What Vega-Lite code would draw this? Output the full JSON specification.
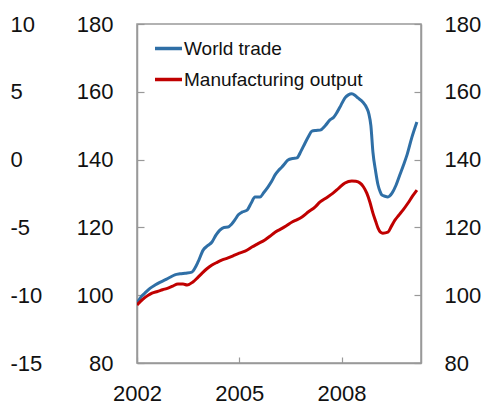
{
  "$schema": "https://vega.github.io/schema/vega-lite/v6.json",
  "width": 284,
  "height": 339,
  "autosize": "none",
  "padding": {"left": 137, "top": 24, "right": 64, "bottom": 45},
  "config": {
    "font": "Liberation Sans",
    "view": {"stroke": "#999999", "strokeWidth": 1.5},
    "axis": {"labelFont": "Liberation Sans", "labelFontSize": 22, "labelColor": "#111111", "domainColor": "#999999", "domainWidth": 1.5, "tickColor": "#999999", "tickWidth": 1.2, "grid": false, "title": null, "labelOverlap": false}
  },
  "data": {"values": [
    {"s": "World trade", "t": 2002.00, "v": 97.7},
    {"s": "World trade", "t": 2002.12, "v": 99.5},
    {"s": "World trade", "t": 2002.23, "v": 100.6},
    {"s": "World trade", "t": 2002.38, "v": 102.0},
    {"s": "World trade", "t": 2002.53, "v": 103.0},
    {"s": "World trade", "t": 2002.67, "v": 103.8},
    {"s": "World trade", "t": 2002.82, "v": 104.5},
    {"s": "World trade", "t": 2002.97, "v": 105.3},
    {"s": "World trade", "t": 2003.11, "v": 106.0},
    {"s": "World trade", "t": 2003.26, "v": 106.3},
    {"s": "World trade", "t": 2003.41, "v": 106.5},
    {"s": "World trade", "t": 2003.61, "v": 106.8},
    {"s": "World trade", "t": 2003.70, "v": 108.0},
    {"s": "World trade", "t": 2003.79, "v": 109.8},
    {"s": "World trade", "t": 2003.94, "v": 113.3},
    {"s": "World trade", "t": 2004.07, "v": 114.6},
    {"s": "World trade", "t": 2004.20, "v": 115.7},
    {"s": "World trade", "t": 2004.32, "v": 117.8},
    {"s": "World trade", "t": 2004.43, "v": 119.2},
    {"s": "World trade", "t": 2004.55, "v": 120.0},
    {"s": "World trade", "t": 2004.67, "v": 120.1},
    {"s": "World trade", "t": 2004.78, "v": 121.0},
    {"s": "World trade", "t": 2004.87, "v": 122.2},
    {"s": "World trade", "t": 2004.98, "v": 123.8},
    {"s": "World trade", "t": 2005.08, "v": 124.5},
    {"s": "World trade", "t": 2005.23, "v": 125.1},
    {"s": "World trade", "t": 2005.35, "v": 127.2},
    {"s": "World trade", "t": 2005.46, "v": 129.0},
    {"s": "World trade", "t": 2005.61, "v": 129.0},
    {"s": "World trade", "t": 2005.72, "v": 130.3},
    {"s": "World trade", "t": 2005.84, "v": 131.9},
    {"s": "World trade", "t": 2005.95, "v": 133.6},
    {"s": "World trade", "t": 2006.05, "v": 135.5},
    {"s": "World trade", "t": 2006.15, "v": 136.8},
    {"s": "World trade", "t": 2006.25, "v": 137.8},
    {"s": "World trade", "t": 2006.35, "v": 139.0},
    {"s": "World trade", "t": 2006.43, "v": 139.9},
    {"s": "World trade", "t": 2006.56, "v": 140.3},
    {"s": "World trade", "t": 2006.69, "v": 140.5},
    {"s": "World trade", "t": 2006.81, "v": 142.5},
    {"s": "World trade", "t": 2006.93, "v": 144.9},
    {"s": "World trade", "t": 2007.03, "v": 146.8},
    {"s": "World trade", "t": 2007.13, "v": 148.4},
    {"s": "World trade", "t": 2007.25, "v": 148.6},
    {"s": "World trade", "t": 2007.37, "v": 148.7},
    {"s": "World trade", "t": 2007.52, "v": 150.0},
    {"s": "World trade", "t": 2007.66, "v": 151.7},
    {"s": "World trade", "t": 2007.77, "v": 152.5},
    {"s": "World trade", "t": 2007.87, "v": 154.0},
    {"s": "World trade", "t": 2007.98, "v": 156.0},
    {"s": "World trade", "t": 2008.10, "v": 158.2},
    {"s": "World trade", "t": 2008.20, "v": 159.1},
    {"s": "World trade", "t": 2008.30, "v": 159.4},
    {"s": "World trade", "t": 2008.40, "v": 158.9},
    {"s": "World trade", "t": 2008.48, "v": 158.2},
    {"s": "World trade", "t": 2008.62, "v": 157.0},
    {"s": "World trade", "t": 2008.74, "v": 155.2},
    {"s": "World trade", "t": 2008.80, "v": 153.5},
    {"s": "World trade", "t": 2008.86, "v": 150.0},
    {"s": "World trade", "t": 2008.92, "v": 142.2},
    {"s": "World trade", "t": 2009.00, "v": 136.5},
    {"s": "World trade", "t": 2009.07, "v": 132.5},
    {"s": "World trade", "t": 2009.13, "v": 130.6},
    {"s": "World trade", "t": 2009.18, "v": 129.6},
    {"s": "World trade", "t": 2009.27, "v": 129.2},
    {"s": "World trade", "t": 2009.36, "v": 129.0},
    {"s": "World trade", "t": 2009.48, "v": 130.1},
    {"s": "World trade", "t": 2009.60, "v": 132.5},
    {"s": "World trade", "t": 2009.71, "v": 135.5},
    {"s": "World trade", "t": 2009.82, "v": 138.5},
    {"s": "World trade", "t": 2009.92, "v": 141.4},
    {"s": "World trade", "t": 2010.06, "v": 146.5},
    {"s": "World trade", "t": 2010.21, "v": 151.1},
    {"s": "Manufacturing output", "t": 2002.00, "v": 97.1},
    {"s": "Manufacturing output", "t": 2002.15, "v": 98.6},
    {"s": "Manufacturing output", "t": 2002.30, "v": 99.8},
    {"s": "Manufacturing output", "t": 2002.44, "v": 100.6},
    {"s": "Manufacturing output", "t": 2002.60, "v": 101.1},
    {"s": "Manufacturing output", "t": 2002.75, "v": 101.6},
    {"s": "Manufacturing output", "t": 2002.91, "v": 102.1},
    {"s": "Manufacturing output", "t": 2003.05, "v": 102.7},
    {"s": "Manufacturing output", "t": 2003.20, "v": 103.3},
    {"s": "Manufacturing output", "t": 2003.35, "v": 103.3},
    {"s": "Manufacturing output", "t": 2003.47, "v": 103.0},
    {"s": "Manufacturing output", "t": 2003.64, "v": 103.9},
    {"s": "Manufacturing output", "t": 2003.78, "v": 105.2},
    {"s": "Manufacturing output", "t": 2003.91, "v": 106.5},
    {"s": "Manufacturing output", "t": 2004.05, "v": 107.8},
    {"s": "Manufacturing output", "t": 2004.20, "v": 108.9},
    {"s": "Manufacturing output", "t": 2004.35, "v": 109.7},
    {"s": "Manufacturing output", "t": 2004.50, "v": 110.4},
    {"s": "Manufacturing output", "t": 2004.67, "v": 111.0},
    {"s": "Manufacturing output", "t": 2004.83, "v": 111.7},
    {"s": "Manufacturing output", "t": 2005.00, "v": 112.4},
    {"s": "Manufacturing output", "t": 2005.17, "v": 113.0},
    {"s": "Manufacturing output", "t": 2005.37, "v": 114.2},
    {"s": "Manufacturing output", "t": 2005.55, "v": 115.2},
    {"s": "Manufacturing output", "t": 2005.75, "v": 116.3},
    {"s": "Manufacturing output", "t": 2005.90, "v": 117.4},
    {"s": "Manufacturing output", "t": 2006.05, "v": 118.6},
    {"s": "Manufacturing output", "t": 2006.20, "v": 119.4},
    {"s": "Manufacturing output", "t": 2006.37, "v": 120.4},
    {"s": "Manufacturing output", "t": 2006.55, "v": 121.6},
    {"s": "Manufacturing output", "t": 2006.70, "v": 122.3},
    {"s": "Manufacturing output", "t": 2006.84, "v": 123.1},
    {"s": "Manufacturing output", "t": 2007.03, "v": 124.6},
    {"s": "Manufacturing output", "t": 2007.22, "v": 126.0},
    {"s": "Manufacturing output", "t": 2007.37, "v": 127.5},
    {"s": "Manufacturing output", "t": 2007.55, "v": 128.7},
    {"s": "Manufacturing output", "t": 2007.75, "v": 130.1},
    {"s": "Manufacturing output", "t": 2007.92, "v": 131.6},
    {"s": "Manufacturing output", "t": 2008.10, "v": 133.1},
    {"s": "Manufacturing output", "t": 2008.30, "v": 133.7},
    {"s": "Manufacturing output", "t": 2008.42, "v": 133.6},
    {"s": "Manufacturing output", "t": 2008.54, "v": 133.1},
    {"s": "Manufacturing output", "t": 2008.64, "v": 132.0},
    {"s": "Manufacturing output", "t": 2008.74, "v": 130.1},
    {"s": "Manufacturing output", "t": 2008.83, "v": 127.5},
    {"s": "Manufacturing output", "t": 2008.92, "v": 124.2},
    {"s": "Manufacturing output", "t": 2009.00, "v": 121.8},
    {"s": "Manufacturing output", "t": 2009.07, "v": 119.8},
    {"s": "Manufacturing output", "t": 2009.14, "v": 118.6},
    {"s": "Manufacturing output", "t": 2009.21, "v": 118.3},
    {"s": "Manufacturing output", "t": 2009.36, "v": 118.6},
    {"s": "Manufacturing output", "t": 2009.46, "v": 120.3},
    {"s": "Manufacturing output", "t": 2009.57, "v": 122.2},
    {"s": "Manufacturing output", "t": 2009.68, "v": 123.6},
    {"s": "Manufacturing output", "t": 2009.80, "v": 125.1},
    {"s": "Manufacturing output", "t": 2009.95, "v": 127.2},
    {"s": "Manufacturing output", "t": 2010.08, "v": 129.2},
    {"s": "Manufacturing output", "t": 2010.21, "v": 131.0}
  ]},
  "encoding": {
    "x": {
      "field": "t", "type": "quantitative",
      "scale": {"domain": [2002, 2010.33], "nice": false, "zero": false},
      "axis": {"values": [2002, 2005, 2008], "format": "d", "tickSize": -6, "labelPadding": 26, "labelFlush": false}
    }
  },
  "layer": [
    {
      "mark": {"type": "line", "strokeWidth": 3, "interpolate": "monotone", "clip": true},
      "encoding": {
        "y": {
          "field": "v", "type": "quantitative",
          "scale": {"domain": [80, 180], "nice": false, "zero": false},
          "axis": {"orient": "left", "values": [80, 100, 120, 140, 160, 180], "tickSize": -7, "labelPadding": 31, "labelAlign": "right", "labelBaseline": "middle"}
        },
        "color": {
          "field": "s", "type": "nominal",
          "scale": {"domain": ["World trade", "Manufacturing output"], "range": ["#2f6fa6", "#c00000"]},
          "legend": {
            "title": null, "orient": "none", "legendX": 16, "legendY": 9,
            "symbolType": "stroke", "symbolSize": 729, "symbolStrokeWidth": 3.5,
            "labelFontSize": 19, "labelFont": "Liberation Sans", "labelColor": "#111111",
            "labelOffset": 0, "rowPadding": 5, "padding": 0, "labelLimit": 300
          }
        }
      }
    },
    {
      "mark": {"type": "line", "opacity": 0, "clip": true},
      "encoding": {
        "y": {
          "field": "v", "type": "quantitative",
          "scale": {"domain": [80, 180], "nice": false, "zero": false},
          "axis": {"orient": "right", "values": [80, 100, 120, 140, 160, 180], "tickSize": -7, "labelPadding": 30, "labelAlign": "left", "labelBaseline": "middle"}
        },
        "detail": {"field": "s"}
      }
    },
    {
      "mark": {"type": "line", "opacity": 0, "clip": true},
      "encoding": {
        "y": {
          "field": "v", "type": "quantitative",
          "scale": {"domain": [-15, 10], "nice": false, "zero": false},
          "axis": {"orient": "left", "values": [-15, -10, -5, 0, 5, 10], "labelExpr": "'' + datum.value", "ticks": false, "domain": false, "labelPadding": 127, "labelAlign": "left", "labelBaseline": "middle"}
        },
        "detail": {"field": "s"}
      }
    }
  ],
  "resolve": {"scale": {"y": "independent"}}
}
